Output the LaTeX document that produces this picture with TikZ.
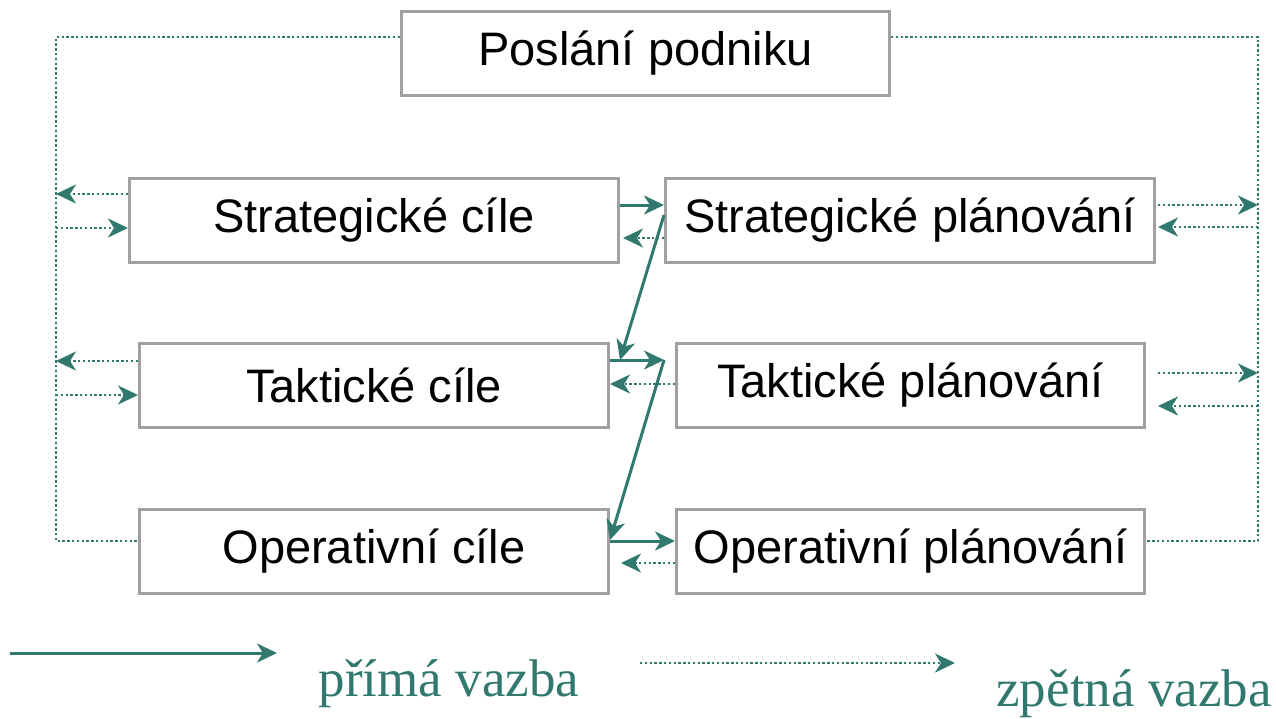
\documentclass[tikz,border=0pt]{standalone}
\usepackage{fontspec}
\setmainfont{Liberation Sans}
\newfontfamily\legendfont{Liberation Serif}
\usetikzlibrary{arrows.meta,calc}
\definecolor{teal}{HTML}{31796F}
\definecolor{boxgray}{HTML}{A0A0A0}
\begin{document}
\begin{tikzpicture}[x=1pt,y=-1pt,
  box/.style={draw=boxgray, line width=3pt, fill=white, inner sep=0pt, anchor=north west,
    font=\fontsize{47}{56}\selectfont, minimum height=84pt},
  fb/.style={draw=teal, line width=2.6pt, dash pattern=on 2.4pt off 2.4pt},
  fba/.style={fb, -{Stealth[length=20pt,width=19pt,inset=6pt]}},
  ff/.style={draw=teal, line width=3pt, -{Stealth[length=20pt,width=19pt,inset=6pt]}},
  legend/.style={text=teal, font=\legendfont\fontsize{53}{60}\selectfont, inner sep=0pt, anchor=base}
]
\useasboundingbox (0,0) rectangle (1276,718);

\node[box, minimum width=488pt] (pp) at (400,10) {Poslání podniku};
\node[box, minimum width=489pt] (sc) at (128,177) {Strategické cíle};
\node[box, minimum width=489pt] (sp) at (664,177) {Strategické plánování};
\node[box, minimum width=469pt] (tc) at (138,342) {Taktické cíle};
\node[box, minimum width=468pt] (tp) at (675,342) {Taktické plánování};
\node[box, minimum width=469pt] (oc) at (138,508) {Operativní cíle};
\node[box, minimum width=468pt] (op) at (675,508) {Operativní plánování};

% feedback frames
\coordinate (lt) at (56,37); \coordinate (lb) at (56,541);
\coordinate (rt) at (1258,37); \coordinate (rb) at (1258,541);
\draw[fb] (lt -| pp.west) -- (lt) -- (lb) -- (lb -| oc.west);
\draw[fb] (rt -| pp.east) -- (rt) -- (rb) -- (rb -| op.east);

% left arrows
\coordinate (a1) at ($(sc.north west)+(0,17)$);
\coordinate (a2) at ($(sc.north west)+(0,51)$);
\coordinate (a3) at ($(tc.north west)+(0,19)$);
\coordinate (a4) at ($(tc.north west)+(0,53)$);
\draw[fba] (a1) -- (a1 -| lt);
\draw[fba] (a2 -| lt) -- (a2);
\draw[fba] (a3) -- (a3 -| lt);
\draw[fba] (a4 -| lt) -- (a4);

% right arrows
\coordinate (b1) at ($(sp.north east)+(2,28)$);
\coordinate (b2) at ($(sp.north east)+(2,50)$);
\coordinate (b3) at ($(tp.north east)+(12,31)$);
\coordinate (b4) at ($(tp.north east)+(12,64)$);
\draw[fba] (b1) -- (b1 -| rt);
\draw[fba] (b2 -| rt) -- (b2);
\draw[fba] (b3) -- (b3 -| rt);
\draw[fba] (b4 -| rt) -- (b4);

% middle
\coordinate (m1) at ($(sc.north east)+(0,28)$);
\draw[ff] (m1) -- (m1 -| sp.west);
\coordinate (m2) at ($(sp.north west)+(0,61)$);
\draw[fba] (m2) -- ($(m2 -| sc.east)+(3,0)$);
\coordinate (d1) at ($(sp.north west)+(0,38)$);
\coordinate (d2) at ($(tc.north east)+(10,18)$);
\draw[ff] (d1) -- (d2);
\coordinate (m3) at ($(tc.north east)+(0,18)$);
\coordinate (m4) at ($(tp.north west)+(-11,18)$);
\draw[ff] (m3) -- (m4);
\coordinate (m5) at ($(tp.north west)+(0,42)$);
\draw[fba] (m5) -- (m5 -| tc.east);
\coordinate (d3) at ($(oc.north east)+(0,32)$);
\draw[ff] (m4) -- (d3);
\coordinate (m6) at ($(oc.north east)+(0,33)$);
\draw[ff] (m6) -- (m6 -| op.west);
\coordinate (m7) at ($(op.north west)+(0,55)$);
\draw[fba] (m7) -- ($(m7 -| oc.east)+(11,0)$);

% legend
\coordinate (s1) at (10,653); \coordinate (s2) at (277,653);
\draw[ff] (s1) -- (s2);
\node[legend] (l1) at (449,696) {přímá vazba};
\coordinate (t1) at (640,663); \coordinate (t2) at (955,663);
\draw[fba] (t1) -- (t2);
\node[legend] (l2) at (1134,706) {zpětná vazba};
\end{tikzpicture}
\end{document}
